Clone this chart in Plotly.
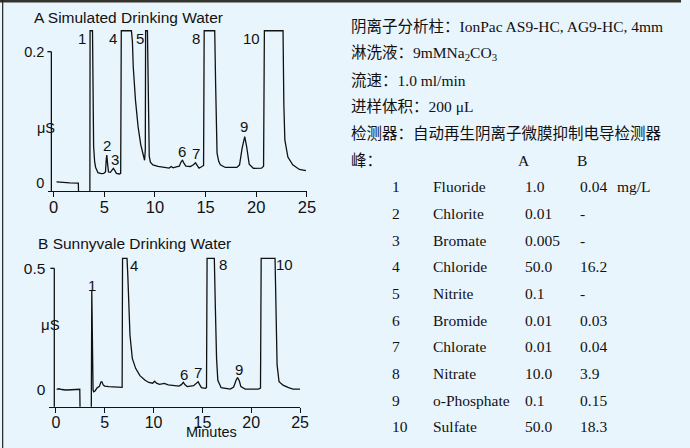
import plotly.graph_objects as go

# ---------------- chromatogram A: simulated drinking water ----------------
time_a = [0.29, 0.8, 1.6, 2.44, 2.47, 3.58, 3.60, 3.84, 3.90, 3.95, 4.05, 4.15, 4.38, 4.7,
          4.95, 5.12, 5.2, 5.25, 5.32, 5.42, 5.6, 5.78, 5.9, 6.02, 6.2, 6.5, 6.62, 6.68,
          7.68, 7.78, 7.86, 8.08, 8.34, 8.6, 8.83, 8.98, 9.05, 9.08, 9.26, 9.36, 9.44,
          9.55, 9.8, 10.3, 11.0, 11.4, 11.6, 11.8, 12.1, 12.4, 12.6, 12.72, 12.85, 13.05,
          13.5, 13.8, 14.0, 14.15, 14.35, 14.6, 14.8, 14.86, 15.9, 15.99, 16.13, 16.3,
          16.46, 16.94, 17.5, 18.08, 18.35, 18.6, 18.86, 19.05, 19.3, 19.71, 20.52, 20.72,
          20.8, 22.64, 22.72, 22.82, 23.12, 23.6, 24.25, 24.9]
signal_a = [0.001, 0.0, -0.0005, -0.001, -0.02, -0.02, 0.232, 0.232, 0.12, 0.055, 0.032,
            0.023, 0.015, 0.0135, 0.014, 0.016, 0.036, 0.042, 0.03, 0.016, 0.0155, 0.019,
            0.0215, 0.019, 0.014, 0.013, 0.014, 0.232, 0.232, 0.215, 0.177, 0.126, 0.085,
            0.058, 0.040, 0.034, 0.05, 0.232, 0.232, 0.1, 0.04, 0.031, 0.027, 0.0245, 0.0235,
            0.022, 0.0245, 0.0225, 0.024, 0.025, 0.032, 0.034, 0.03, 0.025, 0.0245, 0.027,
            0.030, 0.026, 0.022, 0.024, 0.026, 0.232, 0.232, 0.15, 0.045, 0.032, 0.027,
            0.023, 0.0225, 0.023, 0.027, 0.052, 0.070, 0.055, 0.028, 0.0217, 0.022, 0.025,
            0.232, 0.232, 0.12, 0.065, 0.039, 0.027, 0.020, 0.018]

# ---------------- chromatogram B: Sunnyvale drinking water ----------------
time_b = [0.07, 0.3, 0.6, 1.0, 1.6, 2.36, 2.44, 2.47, 3.62, 3.67, 3.72, 3.8, 3.87, 4.0,
          4.2, 4.45, 4.6, 4.7, 4.85, 5.0, 5.4, 6.4, 6.78, 6.82, 7.28, 7.36, 7.41, 7.5,
          7.58, 7.82, 8.16, 8.6, 9.1, 9.5, 9.9, 10.1, 10.3, 10.6, 11.1, 11.5, 12.0, 12.6,
          12.85, 13.04, 13.25, 13.45, 14.1, 14.4, 14.56, 14.72, 14.9, 15.3, 15.42, 15.48,
          16.22, 16.32, 16.45, 16.58, 16.92, 17.86, 18.2, 18.45, 18.6, 18.78, 18.94, 19.38,
          20.73, 20.95, 21.02, 22.44, 22.52, 22.65, 22.85, 23.26, 23.76, 24.27, 25.0]
signal_b = [0.003, 0.005, 0.002, 0.0, 0.001, 0.004, 0.003, -0.08, -0.08, 0.41, 0.2, 0.0,
            -0.007, -0.004, 0.008, 0.015, 0.033, 0.034, 0.02, 0.016, 0.014, 0.011, 0.011,
            0.541, 0.541, 0.47, 0.40, 0.3, 0.226, 0.13, 0.089, 0.059, 0.041, 0.031, 0.028,
            0.036, 0.028, 0.023, 0.027, 0.021, 0.018, 0.016, 0.022, 0.0315, 0.02, 0.014,
            0.018, 0.027, 0.034, 0.022, 0.0096, 0.007, 0.01, 0.541, 0.541, 0.35, 0.13, 0.04,
            0.0096, 0.004, 0.012, 0.04, 0.051, 0.038, 0.0137, 0.004, 0.004, 0.008, 0.541,
            0.541, 0.3, 0.103, 0.034, 0.02, 0.011, 0.004, 0.004]

# peak numbers with the retention time / height where each number is printed
labels_a = ["1", "2", "3", "4", "5", "6", "7", "8", "9", "10"]
label_t_a = [2.83, 5.26, 6.01, 5.91, 8.51, 12.66, 14.02, 14.02, 18.8, 19.54]
label_v_a = [0.22, 0.057, 0.035, 0.22, 0.22, 0.048, 0.045, 0.22, 0.086, 0.22]

labels_b = ["1", "4", "6", "7", "8", "9", "10"]
label_t_b = [3.71, 8.02, 13.15, 14.56, 17.12, 18.74, 23.42]
label_v_b = [0.431, 0.513, 0.064, 0.073, 0.516, 0.086, 0.516]

x_ticks = [0, 5, 10, 15, 20, 25]
y_ticks_a = [0, 0.2]
y_ticks_b = [0, 0.5]

# ---------------- analysis conditions ----------------
conditions = [
    "阴离子分析柱：IonPac AS9-HC, AG9-HC, 4mm",
    "淋洗液：9mMNa<sub>2</sub>CO<sub>3</sub>",
    "流速：1.0 ml/min",
    "进样体积：200 μL",
    "检测器：自动再生阴离子微膜抑制电导检测器",
    "峰：",
]
peak_no = ["1", "2", "3", "4", "5", "6", "7", "8", "9", "10"]
analytes = ["Fluoride", "Chlorite", "Bromate", "Chloride", "Nitrite", "Bromide",
            "Chlorate", "Nitrate", "o-Phosphate", "Sulfate"]
conc_a = ["1.0", "0.01", "0.005", "50.0", "0.1", "0.01", "0.01", "10.0", "0.1", "50.0"]
conc_b = ["0.04", "-", "-", "16.2", "-", "0.03", "0.04", "3.9", "0.15", "18.3"]
unit = "mg/L"

W, H = 690, 448
BG = "#E9F5FD"
INK = "#111111"
SANS = "Liberation Sans, Arial, sans-serif"
SERIF = "Liberation Serif, Noto Sans CJK SC, serif"


def px(x):
    return x / W


def py(y):
    return 1 - y / H


# axis geometry (paper domains and value ranges)
xdom_a, xr_a = [px(49), px(311)], [-0.516, 25]
ydom_a, yr_a = [py(191), py(28)], [-0.013, 0.2362]
xdom_b, xr_b = [px(50), px(304)], [-0.677, 25]
ydom_b, yr_b = [py(406.7), py(255)], [-0.0686, 0.5547]


def to_paper(v, rng, dom):
    return dom[0] + (v - rng[0]) / (rng[1] - rng[0]) * (dom[1] - dom[0])


fig = go.Figure()
line_style = dict(color=INK, width=1.3)
fig.add_trace(go.Scatter(x=time_a, y=signal_a, mode="lines", line=line_style,
                         xaxis="x", yaxis="y", hoverinfo="skip"))
fig.add_trace(go.Scatter(x=time_b, y=signal_b, mode="lines", line=line_style,
                         xaxis="x2", yaxis="y2", hoverinfo="skip"))

xaxis_common = dict(showgrid=False, zeroline=False, showline=True, linecolor=INK,
                    linewidth=1.3, ticks="outside", ticklen=5, tickwidth=1.3,
                    tickcolor=INK, tickvals=x_ticks, fixedrange=True,
                    ticklabelstandoff=-4)
yaxis_common = dict(showgrid=False, zeroline=False, showline=False, ticks="",
                    fixedrange=True, ticklabelstandoff=3)

fig.update_layout(
    width=W, height=H,
    margin=dict(l=0, r=0, t=0, b=0),
    paper_bgcolor=BG, plot_bgcolor="rgba(0,0,0,0)",
    showlegend=False,
    xaxis=dict(domain=xdom_a, range=xr_a, anchor="y",
               tickfont=dict(family=SANS, size=16.5, color=INK), **xaxis_common),
    yaxis=dict(domain=ydom_a, range=yr_a, anchor="x", tickvals=y_ticks_a,
               ticktext=["0", "0.2"],
               tickfont=dict(family=SANS, size=14.5, color=INK), **yaxis_common),
    xaxis2=dict(domain=xdom_b, range=xr_b, anchor="y2",
                tickfont=dict(family=SANS, size=16, color=INK), **xaxis_common),
    yaxis2=dict(domain=ydom_b, range=yr_b, anchor="x2", tickvals=y_ticks_b,
                ticktext=["0", "0.5"],
                tickfont=dict(family=SANS, size=15.5, color=INK), **yaxis_common),
)

# vertical axis lines: from the time axis up to the top tick, with a short tick there
for axis_t, rng, dom, top, xr, xd in [(-0.22, yr_a, ydom_a, y_ticks_a[-1], xr_a, xdom_a),
                                      (-0.17, yr_b, ydom_b, y_ticks_b[-1], xr_b, xdom_b)]:
    xl = to_paper(axis_t, xr, xd)
    yb = to_paper(rng[0], rng, dom)
    yt = to_paper(top, rng, dom)
    fig.add_shape(type="line", xref="paper", yref="paper", x0=xl, x1=xl, y0=yb, y1=yt,
                  line=dict(color=INK, width=1.3))
    fig.add_shape(type="line", xref="paper", yref="paper", x0=xl - px(4), x1=xl,
                  y0=yt, y1=yt, line=dict(color=INK, width=1.3))

# peak numbers
for txt, t, v in zip(labels_a, label_t_a, label_v_a):
    fig.add_annotation(x=t, y=v, xref="x", yref="y", text=txt, showarrow=False,
                       font=dict(family=SANS, size=15, color=INK))
for txt, t, v in zip(labels_b, label_t_b, label_v_b):
    fig.add_annotation(x=t, y=v, xref="x2", yref="y2", text=txt, showarrow=False,
                       font=dict(family=SANS, size=15, color=INK))

# panel titles and axis titles
fig.add_annotation(x=px(32), y=py(18), xref="paper", yref="paper", xanchor="left",
                   yanchor="middle", text="A Simulated Drinking Water", showarrow=False,
                   font=dict(family=SANS, size=15.5, color=INK))
fig.add_annotation(x=px(36), y=py(243), xref="paper", yref="paper", xanchor="left",
                   yanchor="middle", text="B Sunnyvale Drinking Water", showarrow=False,
                   font=dict(family=SANS, size=15.5, color=INK))
fig.add_annotation(x=px(35), y=py(118), xref="paper", yref="paper", text="μS",
                   showarrow=False, font=dict(family=SANS, size=14.5, color=INK))
fig.add_annotation(x=px(40), y=py(335), xref="paper", yref="paper", text="μS",
                   showarrow=False, font=dict(family=SANS, size=15, color=INK))
fig.add_annotation(x=px(186), y=py(442), xref="paper", yref="paper", text="Minutes",
                   showarrow=False, font=dict(family=SANS, size=14.5, color=INK))

# analysis conditions
cond_font = dict(family=SERIF, size=15.5, color=INK)
row_h = 26.67
for i, line in enumerate(conditions):
    fig.add_annotation(x=px(354), y=py(26.7 + i * row_h), xref="paper", yref="paper",
                       xanchor="left", yanchor="middle", text=line, showarrow=False,
                       font=cond_font)
fig.add_annotation(x=px(539), y=py(160), xref="paper", yref="paper", text="A",
                   showarrow=False, font=cond_font)
fig.add_annotation(x=px(597), y=py(160), xref="paper", yref="paper", text="B",
                   showarrow=False, font=cond_font)

# peak table
for i in range(len(peak_no)):
    yy = py(186.7 + i * row_h)
    for col_x, txt in [(395, peak_no[i]), (436.7, analytes[i]), (530, conc_a[i]),
                       (586, conc_b[i])]:
        fig.add_annotation(x=px(col_x), y=yy, xref="paper", yref="paper", xanchor="left",
                           yanchor="middle", text=txt, showarrow=False, font=cond_font)
fig.add_annotation(x=px(622.7), y=py(186.7), xref="paper", yref="paper", xanchor="left",
                   yanchor="middle", text=unit, showarrow=False, font=cond_font)

# frame edges
fig.add_shape(type="line", xref="paper", yref="paper", x0=0, x1=1, y0=py(1.2), y1=py(1.2),
              line=dict(color="#34342c", width=2.5))
fig.add_shape(type="line", xref="paper", yref="paper", x0=px(2.7), x1=px(2.7), y0=0, y1=1,
              line=dict(color="#222222", width=1.2))

fig.write_html("out.html")
